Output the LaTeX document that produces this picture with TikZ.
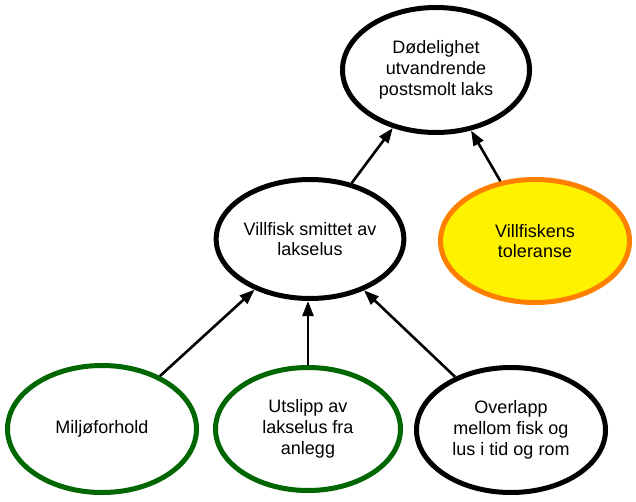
\documentclass[tikz,border=0pt]{standalone}
\usepackage{fontspec}
\setmainfont{Liberation Sans}
\usetikzlibrary{shapes.geometric,arrows.meta}
\definecolor{ygreen}{RGB}{0,102,0}
\definecolor{yorange}{RGB}{255,128,0}
\definecolor{yyellow}{RGB}{255,242,0}
\begin{document}
\begin{tikzpicture}[x=1pt,y=1pt,
  bub/.style={ellipse,draw=black,line width=5pt,fill=white,inner sep=0pt,align=center,
    font=\fontsize{18}{20.7}\selectfont},
  greenbub/.style={bub,draw=ygreen},
  yellowbub/.style={bub,draw=yorange,fill=yyellow},
  arr/.style={line width=2.6pt,-{Triangle[length=15pt,width=11pt]}}]
\useasboundingbox (0,0) rectangle (636,-502);
\node[bub,minimum width=187pt,minimum height=125pt] (top) at (436,-70) {Dødelighet\\utvandrende\\postsmolt laks};
\node[bub,minimum width=185pt,minimum height=119pt] (mid) at (310,-239) {Villfisk smittet av\\lakselus};
\node[yellowbub,minimum width=189pt,minimum height=123pt] (tol) at (535,-241) {Villfiskens\\toleranse};
\node[greenbub,minimum width=189pt,minimum height=127pt] (bl) at (102,-429) {Miljøforhold};
\node[greenbub,minimum width=185pt,minimum height=123pt] (bm) at (308,-429) {Utslipp av\\lakselus fra\\anlegg};
\node[bub,minimum width=189pt,minimum height=125pt] (br) at (511,-430) {Overlapp\\mellom fisk og\\lus i tid og rom};
\draw[arr] (mid) -- (top);
\draw[arr] (tol) -- (top);
\draw[arr] (bl) -- (mid);
\draw[arr] (bm.north) -- (bm.north |- mid.south);
\draw[arr] (br) -- (mid);
\end{tikzpicture}
\end{document}
